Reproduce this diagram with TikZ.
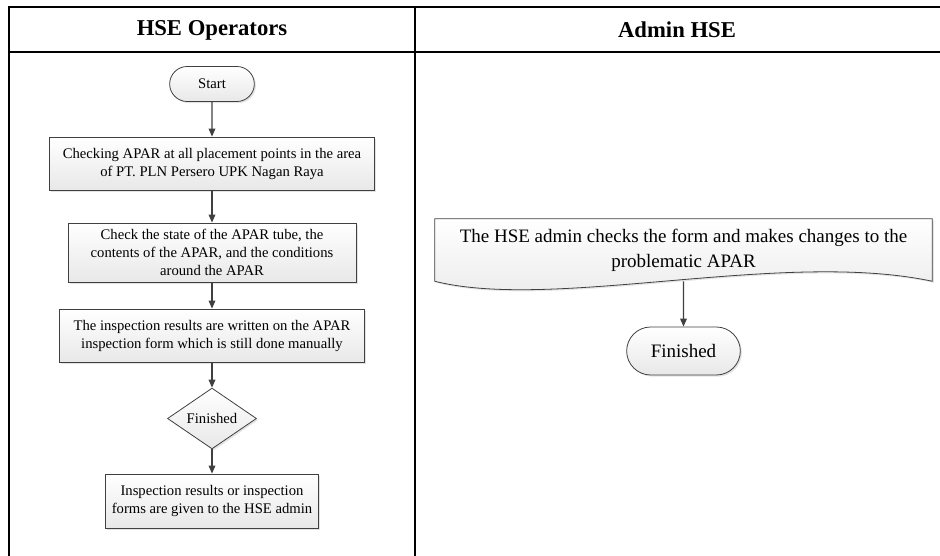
\documentclass[tikz,border=0pt]{standalone}
\usepackage{fontspec}
\setmainfont{Liberation Serif}
\usepackage{tikz}
\usetikzlibrary{shapes.geometric, shapes.misc, positioning, arrows.meta, shadows, backgrounds}
\definecolor{LineGray}{RGB}{64,64,64}
\definecolor{BoxBot}{RGB}{232,232,232}

\begin{document}
\begin{tikzpicture}[x=0.75pt, y=-0.75pt,
          grid/.style={line width=1.6pt, draw=black},
          lane/.style={font=\fontsize{17}{20}\selectfont\bfseries},
          shade/.style={top color=white, bottom color=BoxBot,
                        drop shadow={shadow xshift=1.2pt, shadow yshift=-1.2pt,
                                     opacity=0.22}},
          box/.style={rectangle, draw=LineGray, line width=0.6pt, shade,
                      align=center, inner sep=2pt,
                      font=\fontsize{11}{13.5}\selectfont},
          term/.style={rounded rectangle, draw=LineGray, line width=0.6pt, shade,
                       inner sep=2pt},
          dec/.style={diamond, draw=LineGray, line width=0.6pt, shade,
                      inner sep=0pt, font=\fontsize{11}{13.5}\selectfont},
          arr/.style={-{Triangle[length=6pt, width=5pt]}, draw=LineGray, line width=0.9pt}
        ]
        \useasboundingbox (0,0) rectangle (940,556);

        % swimlane frame
        \draw[grid] (9,556) -- (9,7) -- (940,7);
        \draw[grid] (9,52) -- (940,52);
        \draw[grid] (415,7) -- (415,556);
        \node[lane] (hse)   at (212,30) {HSE Operators};
        \node[lane] (admin) at (677,30) {Admin HSE};

        % HSE operators
        \node[term, minimum width=67.5pt, minimum height=26.25pt,
              font=\fontsize{11}{13.5}\selectfont] (start) at (212,84) {Start};
        \node[box, minimum width=243.75pt, minimum height=39.75pt] (chk) at (212,163.5)
              {Checking APAR at all placement points in the area\\of PT. PLN Persero UPK Nagan Raya};
        \node[box, minimum width=216pt, minimum height=44.25pt] (state) at (212,252.5)
              {Check the state of the APAR tube, the\\contents of the APAR, and the conditions\\around the APAR};
        \node[box, minimum width=228.75pt, minimum height=39.75pt] (form) at (212,335.5)
              {The inspection results are written on the APAR\\inspection form which is still done manually};
        \node[dec, minimum width=66.75pt, minimum height=38.25pt] (fin1) at (212,418.5) {Finished};
        \node[box, minimum width=159.75pt, minimum height=40.5pt] (give) at (212,501)
              {Inspection results or inspection\\forms are given to the HSE admin};

        \draw[arr] (start) -- (chk);
        \draw[arr] (chk)   -- (state);
        \draw[arr] (state) -- (form);
        \draw[arr] (form)  -- (fin1);
        \draw[arr] (fin1)  -- (give);

        % admin HSE
        \node[minimum width=372.75pt, minimum height=46.5pt, align=center, inner sep=0pt,
              font=\fontsize{14.25}{18.75}\selectfont] (adm) at (683.5,250)
              {The HSE admin checks the form and makes changes to the\\problematic APAR};
        \begin{scope}[on background layer]
          \draw[draw=LineGray, line width=0.6pt, shade]
                (adm.south west) -- (adm.north west) -- (adm.north east) -- (adm.south east)
                .. controls +(-150,-32) and +(120,30) .. (adm.south west) -- cycle;
        \end{scope}
        \node[term, minimum width=89.25pt, minimum height=36pt,
              font=\fontsize{14.25}{17}\selectfont] (fin2) at (683.5,351) {Finished};

        \draw[arr] (adm.south) -- (fin2);
      \end{tikzpicture}
\end{document}
